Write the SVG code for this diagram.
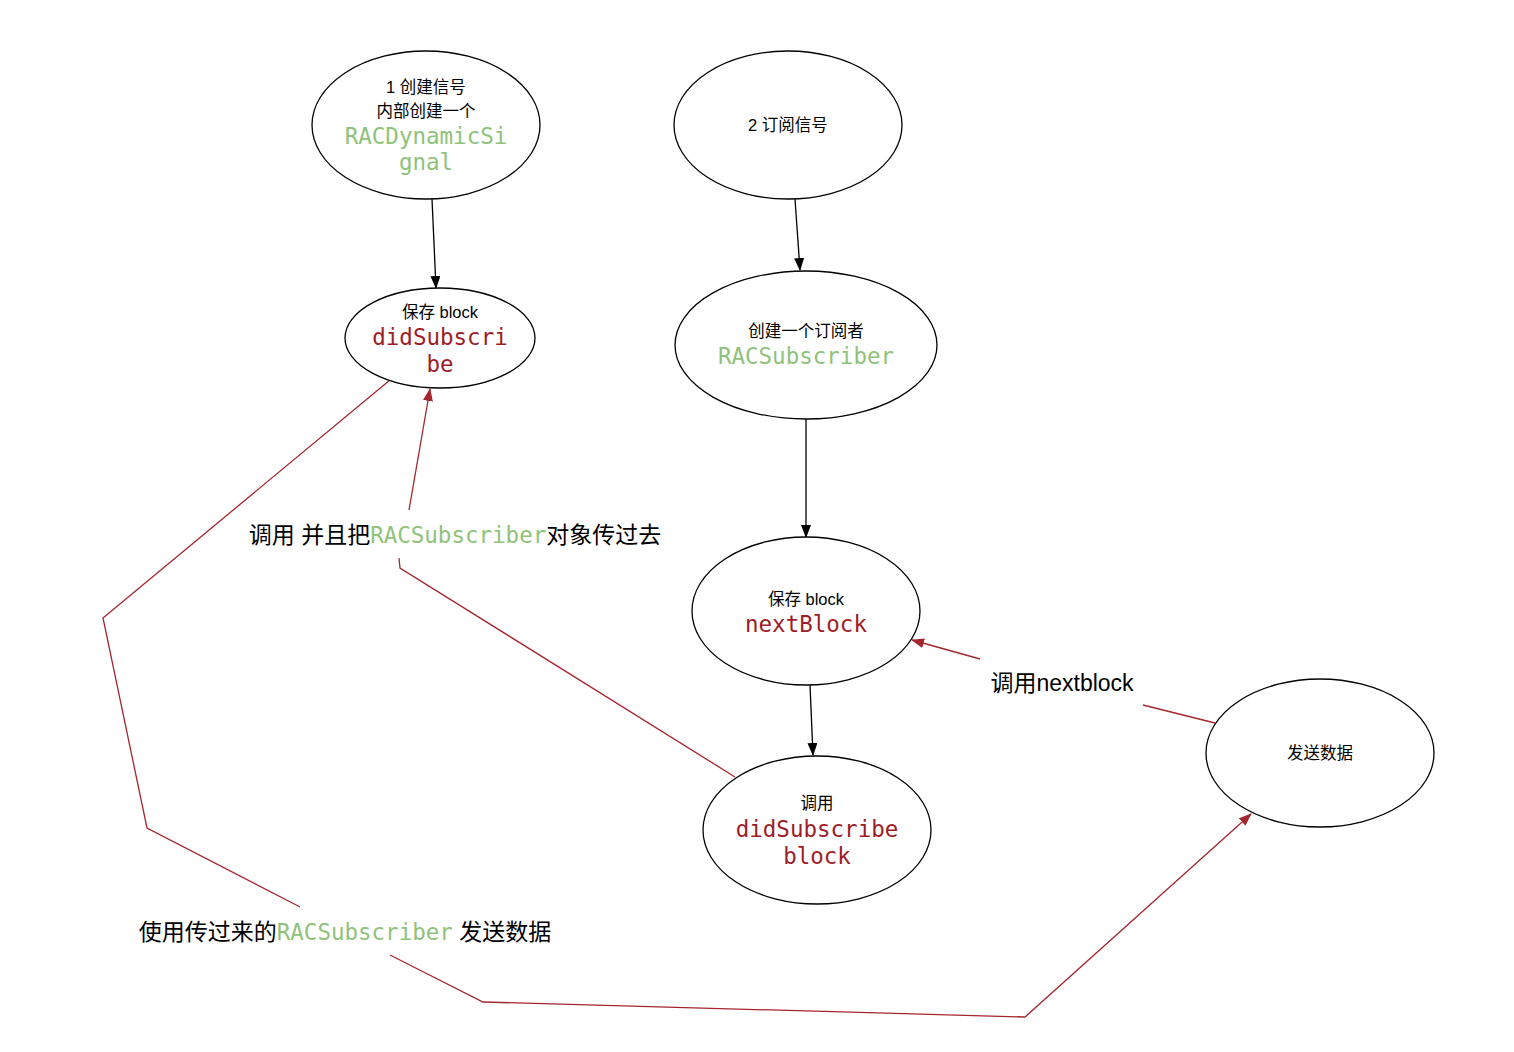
<svg xmlns="http://www.w3.org/2000/svg" width="1514" height="1052" viewBox="0 0 1514 1052">
<style>
.node ellipse{fill:#fff;stroke:#000;stroke-width:1.3}
.t{font-family:"Liberation Sans","Noto Sans CJK SC",sans-serif;fill:#000;text-anchor:middle}
.s{font-size:16.5px}
.l{font-size:23px}
.m{font-family:"DejaVu Sans Mono","Liberation Mono",monospace;font-size:22.5px;text-anchor:middle}
.g{fill:#8fc27a}
.r{fill:#9e1c26}
.k{fill:none;stroke:#000;stroke-width:1.3}
.rd{fill:none;stroke:#a3272d;stroke-width:1.3}
</style>
<defs>
<marker id="ab" markerWidth="13" markerHeight="10" refX="12" refY="5" orient="auto" markerUnits="userSpaceOnUse"><path d="M0,0 L13,5 L0,10 z" fill="#000"/></marker>
<marker id="ar" markerWidth="13" markerHeight="10" refX="12" refY="5" orient="auto" markerUnits="userSpaceOnUse"><path d="M0,0 L13,5 L0,10 z" fill="#a3272d"/></marker>
</defs>
<rect width="1514" height="1052" fill="#fff"/>
<g id="connectors">
<line class="k" x1="432" y1="199" x2="436" y2="288" marker-end="url(#ab)"/>
<line class="k" x1="795" y1="199" x2="800" y2="270" marker-end="url(#ab)"/>
<line class="k" x1="806" y1="419" x2="806" y2="537" marker-end="url(#ab)"/>
<line class="k" x1="810" y1="685" x2="813" y2="755" marker-end="url(#ab)"/>
<polyline class="rd" points="735,777 400,568 399,558"/>
<polyline class="rd" points="409,510 430,389" marker-end="url(#ar)"/>
<polyline class="rd" points="390,380 103,618 147,828 300,907"/>
<polyline class="rd" points="390,955 483,1002 1025,1017 1251,814" marker-end="url(#ar)"/>
<polyline class="rd" points="1215,723 1143,705"/>
<polyline class="rd" points="980,659 912,640" marker-end="url(#ar)"/>
</g>
<g id="n1" class="node"><ellipse cx="426" cy="125" rx="114" ry="74"/>
<text class="t s" x="426" y="93">1 创建信号</text>
<text class="t s" x="426" y="117">内部创建一个</text>
<text class="m g" x="426" y="144">RACDynamicSi</text>
<text class="m g" x="426" y="170">gnal</text></g>
<g id="n2" class="node"><ellipse cx="788" cy="125" rx="114" ry="74"/>
<text class="t s" x="788" y="131">2 订阅信号</text></g>
<g id="n3" class="node"><ellipse cx="440" cy="338" rx="95" ry="50"/>
<text class="t s" x="440" y="318">保存 block</text>
<text class="m r" x="440" y="345">didSubscri</text>
<text class="m r" x="440" y="372">be</text></g>
<g id="n4" class="node"><ellipse cx="806" cy="345" rx="131" ry="74"/>
<text class="t s" x="806" y="337">创建一个订阅者</text>
<text class="m g" x="806" y="364">RACSubscriber</text></g>
<g id="n5" class="node"><ellipse cx="806" cy="611" rx="114" ry="74"/>
<text class="t s" x="806" y="605">保存 block</text>
<text class="m r" x="806" y="632">nextBlock</text></g>
<g id="n6" class="node"><ellipse cx="817" cy="830" rx="114" ry="74"/>
<text class="t s" x="817" y="809">调用</text>
<text class="m r" x="817" y="837">didSubscribe</text>
<text class="m r" x="817" y="864">block</text></g>
<g id="n7" class="node"><ellipse cx="1320" cy="753" rx="114" ry="74"/>
<text class="t s" x="1320" y="759">发送数据</text></g>
<g id="labels">
<text class="t l" x="455" y="543">调用 并且把<tspan class="m g" style="font-size:22.5px">RACSubscriber</tspan>对象传过去</text>
<text class="t l" x="345" y="940">使用传过来的<tspan class="m g" style="font-size:22.5px">RACSubscriber</tspan> 发送数据</text>
<text class="t l" x="1062" y="691">调用nextblock</text>
</g>
</svg>
